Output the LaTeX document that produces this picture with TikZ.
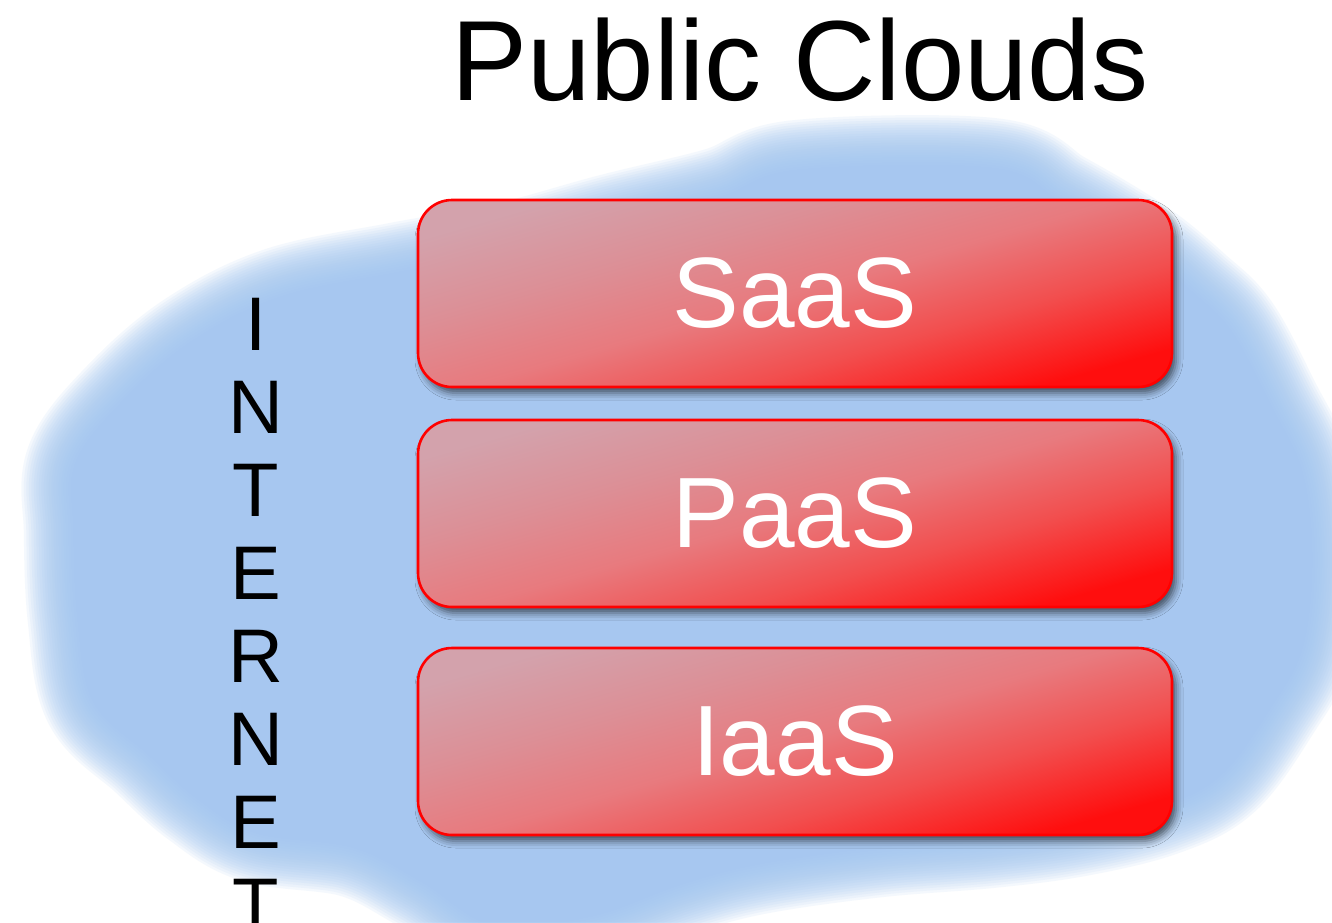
\documentclass[tikz,border=0pt]{standalone}
\usepackage{fontspec}
\setmainfont{Liberation Sans}
\usetikzlibrary{shadows.blur}
\definecolor{cloudblue}{RGB}{163,199,240}
\definecolor{boxpink}{RGB}{211,162,172}
\definecolor{boxpinkb}{RGB}{220,143,150}
\definecolor{boxmid}{RGB}{232,122,126}
\definecolor{boxmidb}{RGB}{242,78,78}
\definecolor{boxred}{RGB}{255,14,14}
\definecolor{edgered}{RGB}{255,0,0}
\pgfdeclareverticalshading{layershade}{100bp}{color(0bp)=(boxred); color(25bp)=(boxred); color(38bp)=(boxmidb); color(50bp)=(boxmid); color(62bp)=(boxpinkb); color(75bp)=(boxpink); color(100bp)=(boxpink)}
\tikzset{
  layerbox/.style={draw=edgered, line width=2.6pt, rounded corners=34pt,
    minimum width=754pt, minimum height=187pt, inner sep=0pt,
    shading=layershade, shading angle=16,
    blur shadow={shadow xshift=4pt, shadow yshift=-6pt, shadow blur radius=7pt, shadow opacity=60},
    text=white, font=\fontsize{100}{110}\selectfont},
  letter/.style={anchor=base, inner sep=0pt, font=\fontsize{76}{80}\selectfont, text=black},
  titletext/.style={anchor=base, inner sep=0pt, font=\fontsize{114}{120}\selectfont, text=black}
}
\def\cloudpath{plot[smooth cycle, tension=0.6] coordinates {
  (60,460) (110,395) (180,335) (270,290) (390,265) (500,245) (610,215)
  (720,188) (800,160) (1000,158) (1070,192) (1150,240) (1205,285) (1245,325)
  (1285,400) (1318,470) (1328,560) (1318,650) (1285,712) (1235,780) (1175,812)
  (1090,833) (1000,845) (880,855) (760,872) (680,893) (590,925) (490,935)
  (415,890) (345,855) (245,840) (185,805) (135,760) (78,705) (62,620) (58,530)}}
\begin{document}
\begin{tikzpicture}[x=1pt, y=-1pt]
\useasboundingbox (0,0) rectangle (1332,922);
\fill[white] (0,0) rectangle (1332,922);
\begin{scope}
\clip (0,0) rectangle (1332,922);
\begin{scope}[scale around={0.975:(690,560)}]
\foreach \w in {100,95,...,0}{
  \begin{scope}[transparency group, opacity=0.11]
    \filldraw[cloudblue, line width=\w pt, line join=round] \cloudpath;
  \end{scope}
}
\end{scope}
\end{scope}
\node[titletext] (title) at (800,100) {Public Clouds};
\node[layerbox] (saas) at (795,293.5) {SaaS};
\node[layerbox] (paas) at (795,513.5) {PaaS};
\node[layerbox] (iaas) at (795,741.5) {IaaS};
\foreach \l [count=\k] in {I,N,T,E,R,N,E,T}{
  \node[letter] (inet\k) at (256,{350+83*(\k-1)}) {\l};
}
\end{tikzpicture}
\end{document}
